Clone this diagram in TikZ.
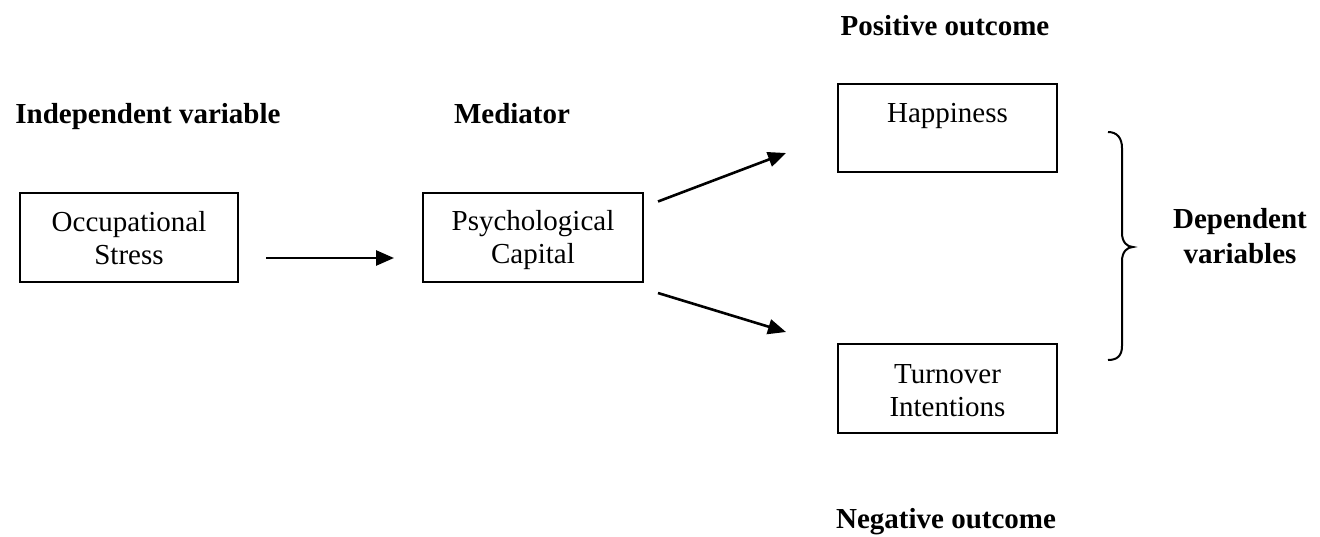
\documentclass[tikz,border=0pt]{standalone}
\usepackage{fontspec}
\setmainfont{Liberation Serif}
\usetikzlibrary{arrows.meta}
\newcommand\bxs{\rule[-4pt]{0pt}{30pt}}
\begin{document}
\begin{tikzpicture}[x=1pt,y=-1pt,
  box/.style={draw,line width=2pt,inner sep=0pt,align=center,
    font=\fontsize{29}{33}\selectfont},
  lbl/.style={align=center,anchor=base,inner sep=0pt,font=\fontsize{29}{35}\selectfont\bfseries},
  arr/.style={line width=2.6pt,-{Triangle[length=18pt,width=15pt]}}]
\useasboundingbox (0,0) rectangle (1320,536);
\fill[white] (0,0) rectangle (1320,536);
\node[box,minimum width=218pt,minimum height=89pt] (os) at (129,237) {\bxs Occupational\\\bxs Stress};
\node[box,minimum width=220pt,minimum height=89pt] (pc) at (533,237) {\bxs Psychological\\\bxs Capital};
\node[box,minimum width=219pt,minimum height=88pt] (hp) at (947.5,128) {\bxs Happiness\\\bxs};
\node[box,minimum width=219pt,minimum height=89pt] (ti) at (947.5,388.5) {\bxs Turnover\\\bxs Intentions};
\node[lbl] (iv) at (148,123) {Independent variable};
\node[lbl] (md) at (512,123) {Mediator};
\node[lbl] (po) at (945,35) {Positive outcome};
\node[lbl] (no) at (946,528) {Negative outcome};
\node[lbl] (dv) at (1240,263) {Dependent\\variables};
\draw[arr,shorten <=27pt,shorten >=28pt] ([yshift=-21pt]os.east) -- ([yshift=-21pt]pc.west);
\draw[arr] ([xshift=14pt,yshift=35.5pt]pc.east) -- ([xshift=-51pt,yshift=-25pt]hp.west);
\draw[arr] ([xshift=14pt,yshift=-56pt]pc.east) -- ([xshift=-51pt,yshift=56.5pt]ti.west);
\draw[line width=2pt] (1108,132) .. controls (1117,132) and (1122,138) .. (1122,148)
  -- (1122,233) .. controls (1122,242) and (1127,247) .. (1133,247)
  .. controls (1127,247) and (1122,252) .. (1122,261)
  -- (1122,346) .. controls (1122,356) and (1117,360) .. (1108,360);
\end{tikzpicture}
\end{document}
